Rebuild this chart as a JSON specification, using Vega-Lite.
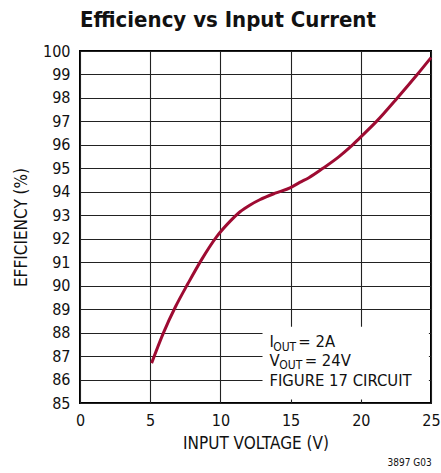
{
  "$schema": "https://vega.github.io/schema/vega-lite/v6.json",
  "width": 351,
  "height": 352,
  "autosize": {"type": "none"},
  "padding": {"left": 80, "top": 51, "right": 10, "bottom": 70},
  "background": "white",
  "config": {
    "font": "DejaVu Sans Condensed, Liberation Sans, sans-serif",
    "view": {"stroke": "#000000", "strokeWidth": 2},
    "axis": {
      "domain": false,
      "ticks": false,
      "grid": true,
      "gridColor": "#222222",
      "gridWidth": 1.1,
      "labelFont": "DejaVu Sans Condensed, Liberation Sans, sans-serif",
      "labelFontSize": 16,
      "labelColor": "#111111",
      "labelOverlap": false,
      "labelFlush": false,
      "titleFont": "DejaVu Sans Condensed, Liberation Sans, sans-serif",
      "titleFontSize": 17,
      "titleFontWeight": "normal",
      "titleColor": "#111111"
    }
  },
  "title": {
    "text": "Efficiency vs Input Current",
    "anchor": "start",
    "frame": "group",
    "font": "DejaVu Sans Condensed, Liberation Sans, sans-serif",
    "fontSize": 22,
    "fontWeight": "bold",
    "color": "#111111",
    "offset": 11
  },
  "data": {
    "values": [
      {"vin": 5.1, "eff": 86.7},
      {"vin": 5.95, "eff": 88.0},
      {"vin": 6.8, "eff": 89.1},
      {"vin": 7.7, "eff": 90.1},
      {"vin": 8.65, "eff": 91.1},
      {"vin": 9.75, "eff": 92.1},
      {"vin": 10.7, "eff": 92.75},
      {"vin": 11.4, "eff": 93.15},
      {"vin": 12.15, "eff": 93.45},
      {"vin": 12.8, "eff": 93.66},
      {"vin": 13.9, "eff": 93.94},
      {"vin": 15.0, "eff": 94.18},
      {"vin": 15.65, "eff": 94.4},
      {"vin": 16.3, "eff": 94.6},
      {"vin": 17.3, "eff": 95.0},
      {"vin": 18.45, "eff": 95.5},
      {"vin": 19.2, "eff": 95.88},
      {"vin": 19.93, "eff": 96.3},
      {"vin": 21.12, "eff": 97.0},
      {"vin": 22.6, "eff": 98.0},
      {"vin": 24.02, "eff": 99.0},
      {"vin": 25.0, "eff": 99.72}
    ]
  },
  "layer": [
    {
      "mark": {"type": "line", "color": "#9e0b32", "strokeWidth": 3, "interpolate": "monotone"},
      "encoding": {
        "x": {
          "field": "vin", "type": "quantitative",
          "scale": {"domain": [0, 25], "nice": false, "zero": false},
          "axis": {"values": [0, 5, 10, 15, 20, 25], "tickCount": 10, "title": "INPUT VOLTAGE (V)", "labelPadding": 9, "titlePadding": 7, "labelOverlap": false, "labelFlush": false}
        },
        "y": {
          "field": "eff", "type": "quantitative",
          "scale": {"domain": [85, 100], "nice": false, "zero": false},
          "axis": {"values": [85,86,87,88,89,90,91,92,93,94,95,96,97,98,99,100], "tickCount": 20, "title": "EFFICIENCY (%)", "labelPadding": 10, "titlePadding": 12, "labelOverlap": false, "labelBound": false}
        }
      }
    },
    {
      "data": {"values": [{}]},
      "mark": {"type": "rect", "color": "white"},
      "encoding": {
        "x": {"datum": 13.0, "type": "quantitative"},
        "x2": {"datum": 24.85},
        "y": {"datum": 88.25, "type": "quantitative"},
        "y2": {"datum": 85.15}
      }
    },
    {
      "data": {"values": [{}]},
      "mark": {"type": "text", "align": "left", "baseline": "alphabetic", "fontSize": 16.5, "color": "#111111", "text": "I"},
      "encoding": {"x": {"datum": 13.49, "type": "quantitative"}, "y": {"datum": 87.4, "type": "quantitative"}}
    },
    {
      "data": {"values": [{}]},
      "mark": {"type": "text", "align": "left", "baseline": "alphabetic", "fontSize": 12, "color": "#111111", "text": "OUT"},
      "encoding": {"x": {"datum": 13.76, "type": "quantitative"}, "y": {"datum": 87.23, "type": "quantitative"}}
    },
    {
      "data": {"values": [{}]},
      "mark": {"type": "text", "align": "left", "baseline": "alphabetic", "fontSize": 16.5, "color": "#111111", "text": "= 2A"},
      "encoding": {"x": {"datum": 15.55, "type": "quantitative"}, "y": {"datum": 87.4, "type": "quantitative"}}
    },
    {
      "data": {"values": [{}]},
      "mark": {"type": "text", "align": "left", "baseline": "alphabetic", "fontSize": 16.5, "color": "#111111", "text": "V"},
      "encoding": {"x": {"datum": 13.49, "type": "quantitative"}, "y": {"datum": 86.59, "type": "quantitative"}}
    },
    {
      "data": {"values": [{}]},
      "mark": {"type": "text", "align": "left", "baseline": "alphabetic", "fontSize": 12, "color": "#111111", "text": "OUT"},
      "encoding": {"x": {"datum": 14.2, "type": "quantitative"}, "y": {"datum": 86.45, "type": "quantitative"}}
    },
    {
      "data": {"values": [{}]},
      "mark": {"type": "text", "align": "left", "baseline": "alphabetic", "fontSize": 16.5, "color": "#111111", "text": "= 24V"},
      "encoding": {"x": {"datum": 16.0, "type": "quantitative"}, "y": {"datum": 86.59, "type": "quantitative"}}
    },
    {
      "data": {"values": [{}]},
      "mark": {"type": "text", "align": "left", "baseline": "alphabetic", "fontSize": 16.5, "color": "#111111", "text": "FIGURE 17 CIRCUIT"},
      "encoding": {"x": {"datum": 13.49, "type": "quantitative"}, "y": {"datum": 85.74, "type": "quantitative"}}
    },
    {
      "data": {"values": [{}]},
      "mark": {"type": "text", "align": "right", "baseline": "middle", "fontSize": 10, "color": "#111111", "text": "3897 G03", "clip": false},
      "encoding": {"x": {"datum": 25.05, "type": "quantitative"}, "y": {"datum": 82.43, "type": "quantitative"}}
    }
  ]
}
